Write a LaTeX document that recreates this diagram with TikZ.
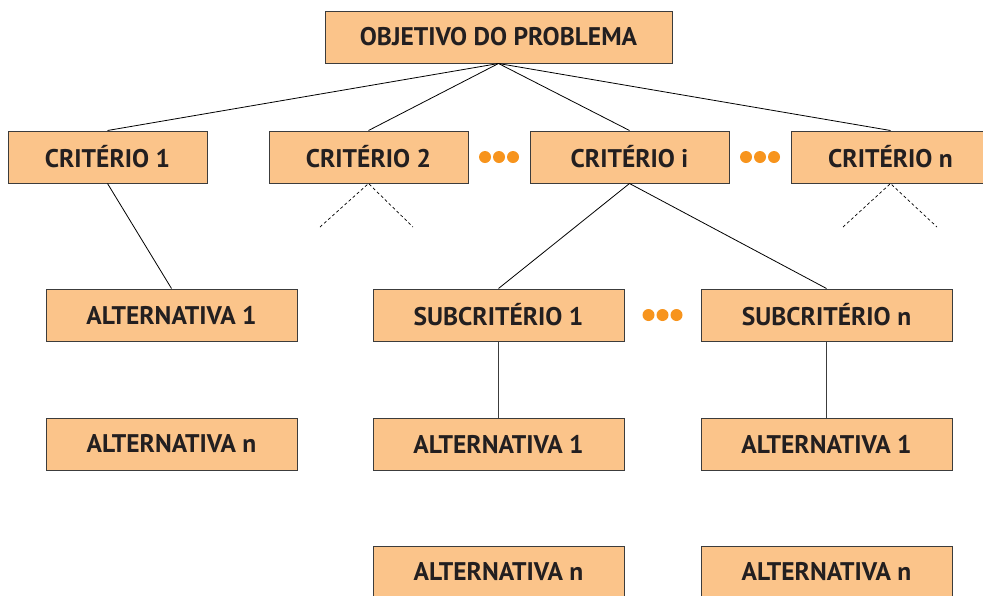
\documentclass[tikz,border=0pt]{standalone}
\usepackage{fontspec}
\setsansfont{PT Sans}
\usepackage{tikz}
\usetikzlibrary{calc}
\definecolor{boxfill}{HTML}{FBC48A}
\definecolor{boxline}{HTML}{3C3C3C}
\definecolor{dotcolor}{HTML}{F7941D}
\definecolor{textcolor}{HTML}{231F20}
\tikzset{
    box/.style={draw=boxline,fill=boxfill,line width=1pt,minimum width=199pt,minimum height=52pt,inner sep=0pt,
        text=textcolor,font=\sffamily\bfseries\fontsize{25.5}{30}\selectfont},
    widebox/.style={box,minimum width=251pt},
    topbox/.style={box,minimum width=347pt},
    link/.style={black,line width=0.8pt},
    sublink/.style={boxline,line width=0.8pt},
    openlink/.style={black,dashed,line width=0.7pt,dash pattern=on 3pt off 2.5pt},
    dot/.style={fill=dotcolor,draw=none}
}
\begin{document}
\begin{tikzpicture}[x=1pt,y=-1pt]
\useasboundingbox (0,0) rectangle (983,595);
\node[topbox](obj) at (498.5,37){OBJETIVO DO PROBLEMA};

\node[box](c1) at (107.5,157){CRITÉRIO 1};
\node[box](c2) at (368.5,157){CRITÉRIO 2};
\node[box](ci) at (629.5,157){CRITÉRIO i};
\node[box](cn) at (890.5,157){CRITÉRIO n};

\node[widebox](a1) at (171.5,315){ALTERNATIVA 1};
\node[widebox](an) at (171.5,444){ALTERNATIVA n};
\node[widebox](s1) at (498.5,315){SUBCRITÉRIO 1};
\node[widebox](sn) at (826.5,315){SUBCRITÉRIO n};
\node[widebox](s1a1) at (498.5,444){ALTERNATIVA 1};
\node[widebox](sna1) at (826.5,444){ALTERNATIVA 1};
\node[widebox](s1an) at (498.5,572){ALTERNATIVA n};
\node[widebox](snan) at (826.5,572){ALTERNATIVA n};

\foreach \c in {c1,c2,ci,cn}
    \draw[link](obj.south)--(\c.north);
\draw[link](c1.south)--(a1.north);
\draw[link](ci.south)--(s1.north);
\draw[link](ci.south)--(sn.north);
\draw[sublink](s1.south)--(s1a1.north);
\draw[sublink](sn.south)--(sna1.north);

\coordinate (c2l) at (320,227);
\coordinate (c2r) at (413,227);
\coordinate (cnl) at (843,227);
\coordinate (cnr) at (937,227);
\draw[openlink](c2l)--(c2.south)--(c2r);
\draw[openlink](cnl)--(cn.south)--(cnr);

\foreach \x in {-14,0,14}
    {\fill[dot]($(c2.east)!0.5!(ci.west)+(\x,0)$) circle (6);
     \fill[dot]($(ci.east)!0.5!(cn.west)+(\x,0)$) circle (6);
     \fill[dot]($(s1.east)!0.5!(sn.west)+(\x,0)$) circle (6);
    }
\end{tikzpicture}
\end{document}
